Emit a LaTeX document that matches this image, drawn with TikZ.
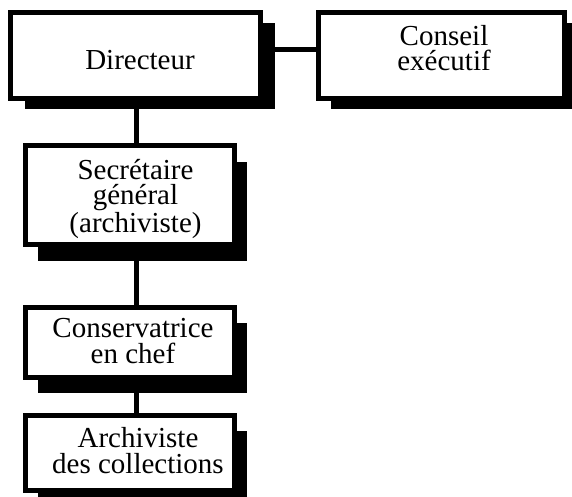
\documentclass[tikz,border=0pt]{standalone}
\usepackage{fontspec}
\setmainfont{Liberation Serif}
\usetikzlibrary{shadows}
\newcommand{\boxfont}{\fontsize{29}{25.5}\selectfont}
\tikzset{
  orgbox/.style={draw, line width=5pt, fill=white, inner sep=0pt},
  shad/.style 2 args={drop shadow={shadow xshift=#1pt, shadow yshift=-#2pt, fill=black, opacity=1}},
  txt/.style={inner sep=0pt, align=center, font=\boxfont, anchor=base},
  link/.style={line width=5pt}
}
\begin{document}
\begin{tikzpicture}[x=1pt,y=-1pt]
\useasboundingbox (0,0) rectangle (572,497);
\node[orgbox, shad={14.5}{10.5}, minimum width=250pt, minimum height=86pt] (d) at (135.5,55.5) {};
\node[orgbox, shad={12}{10.5}, minimum width=246pt, minimum height=86pt] (c) at (441.5,55.5) {};
\node[orgbox, shad={12.5}{16.5}, minimum width=209pt, minimum height=99pt] (s) at (130,195) {};
\node[orgbox, shad={12.5}{15.5}, minimum width=209pt, minimum height=70pt] (k) at (130,342.5) {};
\node[orgbox, shad={12.5}{15}, minimum width=209pt, minimum height=75pt] (a) at (130,453) {};
\node[txt] (dt) at (140,70) {Directeur};
\node[txt] (ct) at (444,71) {Conseil\\exécutif};
\node[txt] (st) at (135.5,232) {Secrétaire\\général\\(archiviste)};
\node[txt] (kt) at (133,363) {Conservatrice\\en chef};
\node[txt] (at) at (138,473) {Archiviste\\des collections};
\draw[link] ([yshift=6pt]d.east) -- ([yshift=6pt]d.east -| c.west);
\draw[link] ([xshift=6.5pt]s.north) -- ([xshift=6.5pt]s.north |- d.south);
\draw[link] ([xshift=6.5pt]k.north) -- ([xshift=6.5pt]k.north |- s.south);
\draw[link] ([xshift=6.5pt]a.north) -- ([xshift=6.5pt]a.north |- k.south);
\end{tikzpicture}
\end{document}
